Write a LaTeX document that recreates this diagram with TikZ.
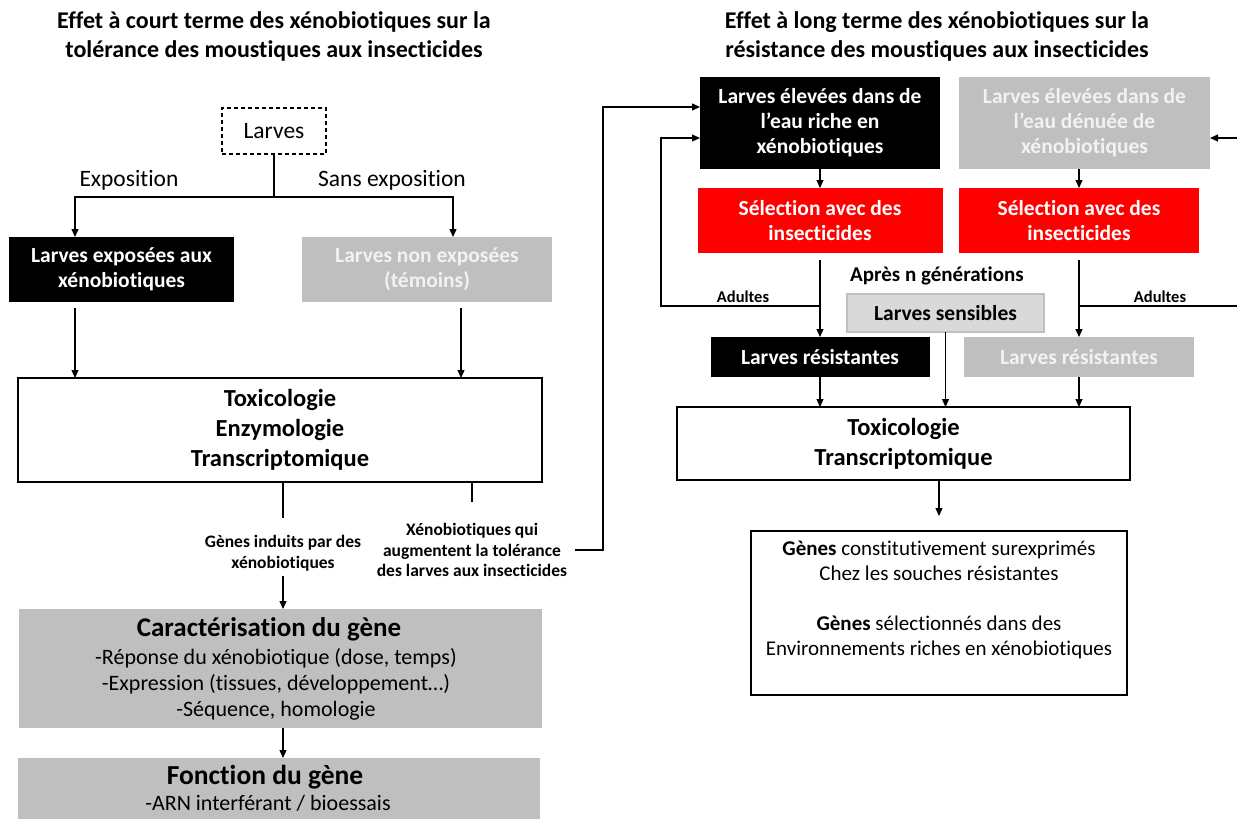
\documentclass[tikz,border=0pt]{standalone}
\usepackage{fontspec}
\setmainfont{Carlito}[Ligatures=CommonOff]
\usetikzlibrary{arrows.meta}
\definecolor{gbox}{HTML}{BFBFBF}
\definecolor{lgbox}{HTML}{D9D9D9}
\definecolor{redb}{HTML}{FF0000}
\definecolor{wtext}{HTML}{F2F2F2}
\begin{document}
\begin{tikzpicture}[x=1pt,y=-1pt,line width=1.2pt,
  >={Triangle[length=8pt,width=7pt]},
  every node/.style={inner sep=0pt,outer sep=0pt,align=center},
  ttl/.style={font=\fontsize{24}{29}\selectfont\bfseries},
  bfont/.style={font=\fontsize{21.5}{25}\selectfont\bfseries},
  blackbox/.style={bfont,fill=black,text=white},
  greybox/.style={bfont,fill=gbox,text=wtext},
  redbox/.style={bfont,fill=redb,text=white},
  bigbox/.style={draw,line width=2.6pt,font=\fontsize{24.5}{30}\selectfont\bfseries},
  small/.style={font=\fontsize{17.5}{20.5}\selectfont\bfseries},
  tiny/.style={font=\fontsize{16.5}{18}\selectfont\bfseries},
  reg/.style={font=\fontsize{23.5}{25}\selectfont}]
\useasboundingbox (0,0) rectangle (1237,819);

% titles
\node[ttl] (t1) at (274,36) {Effet à court terme des xénobiotiques sur la\\tolérance des moustiques aux insecticides};
\node[ttl] (t2) at (937,36) {Effet à long terme des xénobiotiques sur la\\résistance des moustiques aux insecticides};

% ---------- left part ----------
\node[draw,dashed,dash pattern=on 4pt off 3pt,line width=1.2pt,minimum width=104,minimum height=46,reg] (lar) at (274,131) {Larves};
\node[reg] (expo) at (129,180) {Exposition};
\node[reg] (sexpo) at (392,180) {Sans exposition};
\coordinate (split) at (274,197);

\node[blackbox,minimum width=225,minimum height=65] (lexp) at (121.5,269.5) {Larves exposées aux\\xénobiotiques};
\node[greybox,minimum width=250,minimum height=65] (lnon) at (427,269.5) {Larves non exposées\\(témoins)};

\draw (lar.south) -- (split);
\draw[->] (split) -| ([xshift=66]lexp.north west);
\draw[->] (split) -| ([xshift=151]lnon.north west);

\node[bigbox,minimum width=524,minimum height=104] (tox) at (280,430) {Toxicologie\\Enzymologie\\Transcriptomique};

\coordinate (a1) at ([xshift=66,yshift=-6]lexp.south west);
\coordinate (a2) at ([xshift=159,yshift=-6]lnon.south west);
\draw[->] (a1) -- (a1 |- tox.north);
\draw[->] (a2) -- (a2 |- tox.north);

\node[small] (gi) at (283,553) {Gènes induits  par des\\xénobiotiques};
\node[small] (xq) at (472,550) {Xénobiotiques qui\\augmentent la tolérance\\des larves aux insecticides};

\node[fill=gbox,minimum width=523,minimum height=119] (car) at (280.5,668.5) {};
\node[font=\fontsize{27}{30}\selectfont\bfseries] (cart) at (269,629) {Caractérisation du gène};
\node[font=\fontsize{22}{26}\selectfont] (cari) at (276,684) {-Réponse du xénobiotique  (dose, temps)\\-Expression (tissues, développement…)\\-Séquence, homologie};
\node[fill=gbox,minimum width=522,minimum height=64] (fon) at (279,790) {};
\node[font=\fontsize{27.5}{30}\selectfont\bfseries] (font) at (265,777) {Fonction du gène};
\node[font=\fontsize{22}{26}\selectfont] (foni) at (268,803) {-ARN interférant / bioessais};

\draw (tox.south -| gi) -- ++(0,36);
\draw[<-] (car.north -| gi) -- ++(0,-33);
\draw (tox.south -| xq) -- ++(0,20);
\draw[->] (car.south -| gi) -- (fon.north -| gi);

% ---------- right part ----------
\node[blackbox,minimum width=240,minimum height=92] (rb) at (820,123) {Larves élevées dans de\\l’eau riche en\\xénobiotiques};
\node[greybox,minimum width=251,minimum height=92] (gb) at (1084.5,123) {Larves élevées dans de\\l’eau dénuée de\\xénobiotiques};
\node[redbox,minimum width=245,minimum height=65] (red1) at (820,220.5) {Sélection avec des\\insecticides};
\node[redbox,minimum width=240,minimum height=65] (red2) at (1079,220.5) {Sélection avec des\\insecticides};

\draw[->] ([xshift=8]xq.east) -- (603,550) -- (603,107) -- ([yshift=16]rb.west);

\draw[->] (rb.south) -- (red1.north);
\draw[->] (gb.south -| red2) -- (red2.north);

\node[font=\fontsize{21}{24}\selectfont\bfseries] (apres) at (937,276) {Après n générations};
\node[fill=lgbox,draw=gbox,line width=1.5pt,bfont,minimum width=197,minimum height=38] (sens) at (945.5,313) {Larves sensibles};
\node[blackbox,minimum width=219,minimum height=40] (lr1) at (820,357) {Larves résistantes};
\node[greybox,minimum width=230,minimum height=40] (lr2) at (1079,357) {Larves résistantes};

\node[tiny,anchor=south] (ad1) at (743,303) {Adultes};
\node[tiny,anchor=south] (ad2) at (1160,303) {Adultes};

\draw[->] ([yshift=-7]red1.south) -- (lr1.north);
\draw[->] ([yshift=-7]red2.south) -- (lr2.north);
\draw[->] (820,306) -- (661,306) -- (661,138) -- ([yshift=-15]rb.west);
\draw[->] (1079,306) -- (1240,306) -- (1240,138) -- ([yshift=-15]gb.east);

\node[bigbox,minimum width=453,minimum height=73] (tox2) at (903.5,443.5) {Toxicologie\\Transcriptomique};
\draw[->] (lr1.south) -- (lr1.south |- tox2.north);
\draw[->] (lr2.south) -- (lr2.south |- tox2.north);
\draw[->] (sens.south) -- (sens.south |- tox2.north);

\node[draw,line width=1.2pt,minimum width=376,minimum height=164] (gen) at (939,613) {};
\node[font=\fontsize{21}{25}\selectfont] (gent) at (939,600) {\textbf{Gènes} constitutivement surexprimés\\Chez les souches résistantes\\[25pt]\textbf{Gènes} sélectionnés dans des\\Environnements riches en xénobiotiques};
\draw[->] (tox2.south -| gen) -- ++(0,36);
\end{tikzpicture}
\end{document}
